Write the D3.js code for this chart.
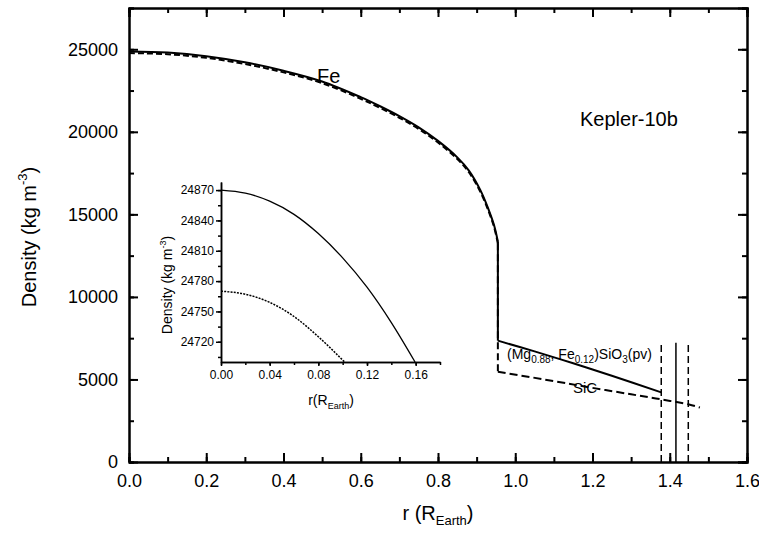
<!DOCTYPE html>
<html>
<head>
<meta charset="utf-8">
<script src="https://cdn.jsdelivr.net/npm/d3@7"></script>
<style>
  body { margin: 0; background: #fff; }
  svg { font-family: "Liberation Sans", Arial, sans-serif; }
</style>
</head>
<body>
<svg id="chart" width="759" height="533"></svg>
<script>
// core (Fe) density profile, solid = pv model, dashed = SiC model
var coreR      = [0, 0.1, 0.2, 0.3, 0.4, 0.5, 0.6, 0.65, 0.7, 0.75, 0.8, 0.85, 0.88, 0.91, 0.93, 0.945, 0.955];
var coreSolid  = [24870, 24800, 24580, 24210, 23700, 23050, 22100, 21550, 20950, 20270, 19450, 18450, 17650, 16450, 15350, 14350, 13350];
var coreDashed = [24770, 24700, 24480, 24110, 23600, 22950, 22000, 21450, 20850, 20170, 19350, 18350, 17550, 16350, 15250, 14250, 13250];

// mantle
var pvR   = [0.955, 1.05, 1.15, 1.25, 1.378];
var pvRho = [7350, 6700, 5980, 5220, 4220];
var sicR   = [0.955, 1.1, 1.2, 1.3, 1.378, 1.45, 1.478];
var sicRho = [5470, 4900, 4490, 4100, 3795, 3480, 3300];

// planet radius markers
var edgeR     = [1.378, 1.416, 1.448];
var edgeStyle = ["dash", "solid", "dash"];
var edgeTop   = 7220;

// inset: centre of the core
var insetR      = [0, 0.02, 0.04, 0.06, 0.08, 0.1, 0.12, 0.14, 0.16];
var insetSolid  = [24870, 24867, 24859, 24846, 24827, 24803, 24774, 24739, 24698];
var insetDR     = [0, 0.02, 0.04, 0.06, 0.08, 0.1016];
var insetDashed = [24770, 24767, 24759, 24745, 24725, 24700];

var xTicks = [0, 0.2, 0.4, 0.6, 0.8, 1.0, 1.2, 1.4, 1.6];
var yTicks = [0, 5000, 10000, 15000, 20000, 25000];
var insetXTicks = [0, 0.04, 0.08, 0.12, 0.16];
var insetYTicks = [24720, 24750, 24780, 24810, 24840, 24870];

var svg = d3.select("#chart");

var x = d3.scaleLinear().domain([0, 1.6]).range([129, 747]);
var y = d3.scaleLinear().domain([0, 27500]).range([462, 8]);

function zip(a, b) { return a.map(function (d, i) { return [d, b[i]]; }); }

function styleAxis(g, w) {
    g.select(".domain").attr("stroke", "#000").attr("stroke-width", w);
    g.selectAll(".tick line").attr("stroke", "#000").attr("stroke-width", w);
    g.selectAll("text").attr("fill", "#000");
}

var xMinor = d3.range(0, 1.61, 0.1).map(function (d) { return +d.toFixed(2); });
var yMinor = d3.range(0, 27501, 2500);

// bottom
svg.append("g").attr("transform", "translate(0,462)")
    .call(d3.axisBottom(x).tickValues(xMinor).tickSize(-5).tickFormat("")).call(styleAxis, 2);
svg.append("g").attr("transform", "translate(0,462)")
    .call(d3.axisBottom(x).tickValues(xTicks).tickSizeInner(-9).tickSizeOuter(0).tickPadding(12)
        .tickFormat(d3.format(".1f")))
    .call(styleAxis, 2)
    .selectAll("text").attr("font-size", 18).attr("font-family", "Liberation Sans, Arial, sans-serif");
// top
svg.append("g").attr("transform", "translate(0,8)")
    .call(d3.axisTop(x).tickValues(xMinor).tickSize(-5).tickFormat("")).call(styleAxis, 2);
svg.append("g").attr("transform", "translate(0,8)")
    .call(d3.axisTop(x).tickValues(xTicks).tickSize(-9).tickFormat("")).call(styleAxis, 2);
// left
svg.append("g").attr("transform", "translate(129,0)")
    .call(d3.axisLeft(y).tickValues(yMinor).tickSize(-5).tickFormat("")).call(styleAxis, 2);
svg.append("g").attr("transform", "translate(129,0)")
    .call(d3.axisLeft(y).tickValues(yTicks).tickSizeInner(-9).tickSizeOuter(0).tickPadding(11)
        .tickFormat(d3.format("d")))
    .call(styleAxis, 2)
    .selectAll("text").attr("font-size", 18).attr("font-family", "Liberation Sans, Arial, sans-serif");
// right
svg.append("g").attr("transform", "translate(747,0)")
    .call(d3.axisRight(y).tickValues(yMinor).tickSize(-5).tickFormat("")).call(styleAxis, 2);
svg.append("g").attr("transform", "translate(747,0)")
    .call(d3.axisRight(y).tickValues(yTicks).tickSize(-9).tickFormat("")).call(styleAxis, 2);

var line = d3.line().x(function (d) { return x(d[0]); }).y(function (d) { return y(d[1]); })
    .curve(d3.curveCatmullRom.alpha(0.5));
var lineStep = d3.line().x(function (d) { return x(d[0]); }).y(function (d) { return y(d[1]); });

var solidPts = zip(coreR, coreSolid);
var dashPts = zip(coreR, coreDashed);

svg.append("path").attr("d", line(solidPts)).attr("fill", "none").attr("stroke", "#000").attr("stroke-width", 2);
svg.append("path").attr("d", line(dashPts)).attr("fill", "none").attr("stroke", "#000")
    .attr("stroke-width", 2).attr("stroke-dasharray", "6,3");

// jumps at core-mantle boundary
svg.append("path").attr("d", lineStep([[coreR[coreR.length - 1], coreSolid[coreSolid.length - 1]], [pvR[0], pvRho[0]]]))
    .attr("fill", "none").attr("stroke", "#000").attr("stroke-width", 2);
svg.append("path").attr("d", lineStep([[coreR[coreR.length - 1], coreDashed[coreDashed.length - 1]], [sicR[0], sicRho[0]]]))
    .attr("fill", "none").attr("stroke", "#000").attr("stroke-width", 2).attr("stroke-dasharray", "7,4");

svg.append("path").attr("d", line(zip(pvR, pvRho))).attr("fill", "none").attr("stroke", "#000").attr("stroke-width", 2);
svg.append("path").attr("d", line(zip(sicR, sicRho))).attr("fill", "none").attr("stroke", "#000")
    .attr("stroke-width", 2).attr("stroke-dasharray", "8,4");

svg.selectAll("line.edge").data(edgeR).enter().append("line")
    .attr("class", "edge")
    .attr("x1", function (d) { return x(d); }).attr("x2", function (d) { return x(d); })
    .attr("y1", y(0)).attr("y2", y(edgeTop))
    .attr("stroke", "#000").attr("stroke-width", 1.5)
    .attr("stroke-dasharray", function (d, i) { return edgeStyle[i] === "dash" ? "7,4" : null; });

// labels
svg.append("text").attr("x", 317).attr("y", 83).attr("font-size", 20).text("Fe");
svg.append("text").attr("x", 580).attr("y", 126).attr("font-size", 20).text("Kepler-10b");

var pv = svg.append("text").attr("x", 507).attr("y", 359).attr("font-size", 14);
pv.append("tspan").text("(Mg");
pv.append("tspan").attr("font-size", 10).attr("dy", 4).text("0.88");
pv.append("tspan").attr("dy", -4).text(", Fe");
pv.append("tspan").attr("font-size", 10).attr("dy", 4).text("0.12");
pv.append("tspan").attr("dy", -4).text(")SiO");
pv.append("tspan").attr("font-size", 10).attr("dy", 4).text("3");
pv.append("tspan").attr("dy", -4).text("(pv)");

svg.append("text").attr("x", 573).attr("y", 393).attr("font-size", 15).text("SiC");

// axis titles
var yt = svg.append("text").attr("transform", "translate(36,237) rotate(-90)")
    .attr("text-anchor", "middle").attr("font-size", 20);
yt.append("tspan").text("Density (kg m");
yt.append("tspan").attr("font-size", 13).attr("dy", -9).text("-3");
yt.append("tspan").attr("dy", 9).text(")");

var xt = svg.append("text").attr("x", 438).attr("y", 520).attr("text-anchor", "middle").attr("font-size", 20);
xt.append("tspan").text("r (R");
xt.append("tspan").attr("font-size", 13).attr("dy", 5).text("Earth");
xt.append("tspan").attr("dy", -5).text(")");

// inset
var ix = d3.scaleLinear().domain([0, 0.18]).range([221, 440]);
var iy = d3.scaleLinear().domain([24700, 24878]).range([362, 182]);

var ixMinor = d3.range(0, 0.181, 0.02).map(function (d) { return +d.toFixed(2); });
var iyMinor = d3.range(24705, 24880, 15);

svg.append("g").attr("transform", "translate(0,362)")
    .call(d3.axisBottom(ix).tickValues(ixMinor).tickSize(3).tickSizeOuter(0).tickFormat("")).call(styleAxis, 1.5);
svg.append("g").attr("transform", "translate(0,362)")
    .call(d3.axisBottom(ix).tickValues(insetXTicks).tickSize(4).tickSizeOuter(0).tickPadding(4)
        .tickFormat(d3.format(".2f")))
    .call(styleAxis, 1.5)
    .selectAll("text").attr("font-size", 12).attr("font-family", "Liberation Sans, Arial, sans-serif");

svg.append("g").attr("transform", "translate(221,0)")
    .call(d3.axisLeft(iy).tickValues(iyMinor).tickSize(3).tickSizeOuter(0).tickFormat("")).call(styleAxis, 1.5);
svg.append("g").attr("transform", "translate(221,0)")
    .call(d3.axisLeft(iy).tickValues(insetYTicks).tickSize(5).tickSizeOuter(0).tickPadding(2)
        .tickFormat(d3.format("d")))
    .call(styleAxis, 1.5)
    .selectAll("text").attr("font-size", 12).attr("font-family", "Liberation Sans, Arial, sans-serif");

var iline = d3.line().x(function (d) { return ix(d[0]); }).y(function (d) { return iy(d[1]); })
    .curve(d3.curveMonotoneX);
svg.append("path").attr("d", iline(zip(insetR, insetSolid).filter(function (d) { return d[1] >= 24700; })
        .concat([[0.1595, 24700]])))
    .attr("fill", "none").attr("stroke", "#000").attr("stroke-width", 1.3);
svg.append("path").attr("d", iline(zip(insetDR, insetDashed)))
    .attr("fill", "none").attr("stroke", "#000").attr("stroke-width", 1.5).attr("stroke-dasharray", "2,1.2");

var iyt = svg.append("text").attr("transform", "translate(172,285) rotate(-90)")
    .attr("text-anchor", "middle").attr("font-size", 14);
iyt.append("tspan").text("Density (kg m");
iyt.append("tspan").attr("font-size", 9).attr("dy", -6).text("-3");
iyt.append("tspan").attr("dy", 6).text(")");

var ixt = svg.append("text").attr("x", 331).attr("y", 405).attr("text-anchor", "middle").attr("font-size", 14);
ixt.append("tspan").text("r(R");
ixt.append("tspan").attr("font-size", 9).attr("dy", 4).text("Earth");
ixt.append("tspan").attr("dy", -4).text(")");
</script>
</body>
</html>
